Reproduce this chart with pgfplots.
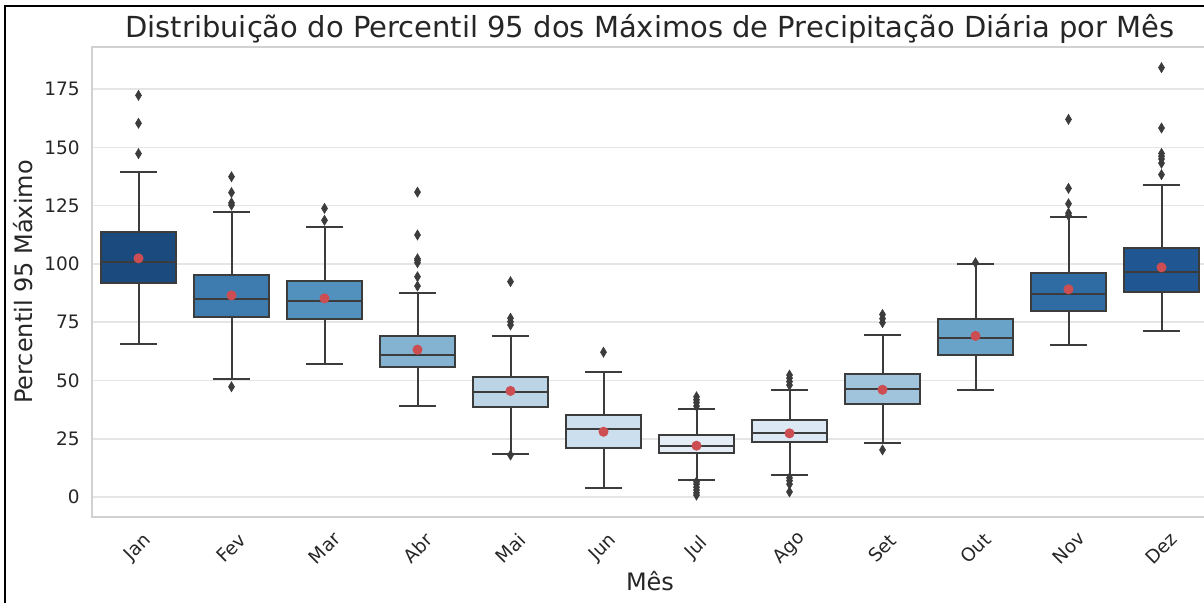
\documentclass[border=0pt]{standalone}
\usepackage{pgfplots}
\pgfplotsset{compat=1.18}
\usepgfplotslibrary{statistics}
\usepackage{fontspec}
\setmainfont{DejaVu Sans}
\definecolor{cJan}{RGB}{27,74,126}
\definecolor{cFev}{RGB}{62,124,176}
\definecolor{cMar}{RGB}{82,145,190}
\definecolor{cAbr}{RGB}{131,179,208}
\definecolor{cMai}{RGB}{187,212,230}
\definecolor{cJun}{RGB}{204,223,239}
\definecolor{cJul}{RGB}{228,237,246}
\definecolor{cAgo}{RGB}{220,232,244}
\definecolor{cSet}{RGB}{159,196,220}
\definecolor{cOut}{RGB}{106,163,200}
\definecolor{cNov}{RGB}{47,108,163}
\definecolor{cDez}{RGB}{32,86,146}
\definecolor{edgec}{RGB}{60,60,60}
\definecolor{meanc}{RGB}{204,78,82}
\definecolor{txtc}{RGB}{38,38,38}
\pgfplotsset{mybox/.style={boxplot prepared={draw direction=y, box extend=0.8, whisker extend=0.4, #1},
  draw=edgec, line width=1pt, mark=diamond*, mark size=2.5pt,
  mark options={fill=edgec, draw=edgec, line width=0.3pt, xscale=0.8}}}
\begin{document}
\begin{tikzpicture}
\useasboundingbox (-46pt,-43pt) rectangle (556pt,258.5pt);
\clip (-46pt,-43pt) rectangle (556pt,258.5pt);
\begin{axis}[
  at={(0,0)}, anchor=south west,
  scale only axis, width=558pt, height=235pt,
  xmin=-0.5, xmax=11.5, ymin=-8.58, ymax=193.05,
  xtick={0,...,11},
  xticklabels={Jan,Fev,Mar,Abr,Mai,Jun,Jul,Ago,Set,Out,Nov,Dez},
  ytick={0,25,50,75,100,125,150,175},
  major tick length=0pt,
  ymajorgrids, xmajorgrids=false,
  grid style={color=black!10, line width=0.8pt},
  axis line style={color=black!18, line width=1pt},
  /pgf/number format/assume math mode=true,
  tick label style={font=\fontsize{9.25pt}{11pt}\selectfont, color=txtc},
  yticklabel style={anchor=east, inner sep=0pt, xshift=-6pt},
  xticklabel style={yshift=-15.5pt, rotate=45, anchor=center, inner sep=0pt},
  title={Distribuição do Percentil 95 dos Máximos de Precipitação Diária por Mês},
  title style={at={(axis description cs:0.5,0.9936)}, anchor=base, font=\fontsize{14.5pt}{17pt}\selectfont, color=txtc},
  xlabel={Mês},
  xlabel style={at={(axis description cs:0.5,-0.1574)}, anchor=base, font=\fontsize{12pt}{14pt}\selectfont, color=txtc},
  ylabel={Percentil 95 Máximo},
  ylabel style={at={(axis description cs:-0.0529,0.5)}, anchor=base, font=\fontsize{12pt}{14pt}\selectfont, color=txtc},
]
\addplot[mybox={draw position=0, lower whisker=65.8, lower quartile=91.7, median=100.7, upper quartile=113.6, upper whisker=139.3}, fill=cJan]
  table[row sep=\\, y index=0] {147.3\\160.3\\172.3\\};
\addplot[mybox={draw position=1, lower whisker=50.5, lower quartile=77.4, median=84.9, upper quartile=95.2, upper whisker=122.1}, fill=cFev]
  table[row sep=\\, y index=0] {47.3\\125.2\\126.2\\130.6\\137.4\\};
\addplot[mybox={draw position=2, lower whisker=57.1, lower quartile=76.4, median=84.0, upper quartile=92.7, upper whisker=115.7}, fill=cMar]
  table[row sep=\\, y index=0] {118.7\\123.8\\};
\addplot[mybox={draw position=3, lower whisker=38.9, lower quartile=55.6, median=60.9, upper quartile=68.9, upper whisker=87.6}, fill=cAbr]
  table[row sep=\\, y index=0] {90.5\\94.5\\100.5\\101.5\\102.2\\112.4\\130.8\\};
\addplot[mybox={draw position=4, lower whisker=18.6, lower quartile=38.5, median=45.2, upper quartile=51.6, upper whisker=69.2}, fill=cMai]
  table[row sep=\\, y index=0] {18.0\\73.8\\75.2\\76.7\\92.4\\};
\addplot[mybox={draw position=5, lower whisker=4.0, lower quartile=21.1, median=29.2, upper quartile=35.2, upper whisker=53.6}, fill=cJun]
  table[row sep=\\, y index=0] {62.1\\};
\addplot[mybox={draw position=6, lower whisker=7.3, lower quartile=18.7, median=21.9, upper quartile=26.7, upper whisker=37.6}, fill=cJul]
  table[row sep=\\, y index=0] {0.8\\1.8\\3.0\\4.2\\5.5\\6.5\\39.0\\40.5\\41.7\\43.0\\};
\addplot[mybox={draw position=7, lower whisker=9.6, lower quartile=23.5, median=27.5, upper quartile=32.9, upper whisker=46.0}, fill=cAgo]
  table[row sep=\\, y index=0] {2.2\\5.5\\7.0\\8.2\\48.0\\49.5\\51.0\\52.3\\};
\addplot[mybox={draw position=8, lower whisker=23.2, lower quartile=40.0, median=46.3, upper quartile=52.8, upper whisker=69.5}, fill=cSet]
  table[row sep=\\, y index=0] {20.2\\74.8\\76.5\\78.3\\};
\addplot[mybox={draw position=9, lower whisker=45.9, lower quartile=60.9, median=68.1, upper quartile=76.4, upper whisker=99.8}, fill=cOut]
  table[row sep=\\, y index=0] {100.5\\};
\addplot[mybox={draw position=10, lower whisker=65.1, lower quartile=79.9, median=87.1, upper quartile=96.1, upper whisker=120.0}, fill=cNov]
  table[row sep=\\, y index=0] {120.8\\121.8\\125.8\\132.4\\162.0\\};
\addplot[mybox={draw position=11, lower whisker=71.2, lower quartile=88.1, median=96.7, upper quartile=107.0, upper whisker=134.0}, fill=cDez]
  table[row sep=\\, y index=0] {138.3\\143.2\\145.0\\146.2\\147.4\\158.3\\184.2\\};
\addplot[only marks, mark=*, mark size=2.3pt, color=meanc] coordinates {
  (0,102.4) (1,86.5) (2,85.2) (3,63.2) (4,45.5) (5,28.0)
  (6,22.0) (7,27.3) (8,46.0) (9,69.1) (10,89.1) (11,98.5)};
\end{axis}
\draw[black, line width=1.2pt] (-43.5pt,-43pt) -- (-43.5pt,255.5pt) -- (556pt,255.5pt);
\end{tikzpicture}
\end{document}
